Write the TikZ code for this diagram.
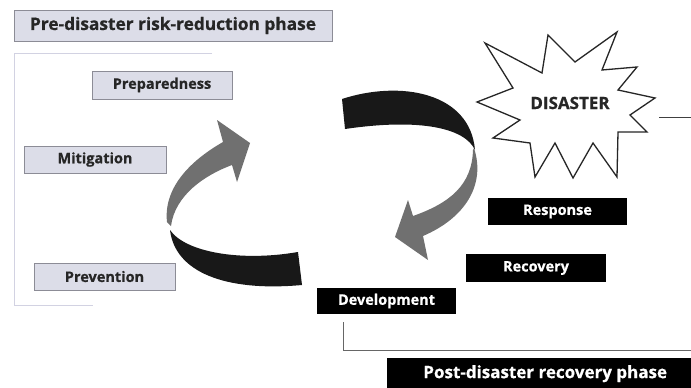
\documentclass[tikz,border=0pt]{standalone}
\usepackage{fontspec}
\setmainfont{Open Sans}[BoldFeatures={FakeBold=0.6}]
\definecolor{prefill}{RGB}{220,221,232}
\definecolor{preline}{RGB}{140,140,150}
\definecolor{faint}{RGB}{210,210,226}
\definecolor{ribbongray}{RGB}{112,112,112}
\definecolor{ribbonblack}{RGB}{24,24,24}
\tikzset{
  prebox/.style={draw=preline, fill=prefill, line width=1pt, inner sep=0pt,
    text=black!85, font=\bfseries\fontsize{14.5}{17}\selectfont},
  blkbox/.style={fill=black, inner sep=0pt, text=white,
    font=\bfseries\fontsize{14.5}{17}\selectfont},
  link/.style={draw=black!60, line width=1pt},
}
\begin{document}
\begin{tikzpicture}[x=1pt, y=-1pt]
\useasboundingbox (0,0) rectangle (691,388);
\fill[white] (0,0) rectangle (691,388);

% faint bracket of the pre-disaster phase
\draw[faint, line width=0.8pt] (212,53) -- (14,53) -- (14,305) -- (93,305);

% title and pre-disaster boxes
\node[prebox, minimum width=318pt, minimum height=31pt,
  font=\bfseries\fontsize{17.3}{20}\selectfont] (pre) at (173,25.5) {Pre-disaster risk-reduction phase};
\node[prebox, minimum width=140pt, minimum height=28pt] (prep) at (162,85) {Preparedness};
\node[prebox, minimum width=142pt, minimum height=27pt] (miti) at (95,159.5) {Mitigation};
\node[prebox, minimum width=141pt, minimum height=27pt] (prev) at (104.5,276.5) {Prevention};

% post-disaster boxes
\node[blkbox, minimum width=139pt, minimum height=27pt] (resp) at (557.5,211.5) {Response};
\node[blkbox, minimum width=140pt, minimum height=28pt] (reco) at (536,268) {Recovery};
\node[blkbox, minimum width=139pt, minimum height=26pt] (deve) at (386.5,301) {Development};
\node[blkbox, minimum width=306pt, minimum height=31pt, anchor=north west,
  font=\bfseries\fontsize{17}{20}\selectfont] (post) at (387,358) {\hspace*{10pt}Post-disaster recovery phase};

% bracket from Development to the post-disaster phase
\coordinate (bstart) at (343,322);
\coordinate (bend) at (691,350);
\draw[link] (bstart) -- (bstart |- bend) -- (bend);

% disaster starburst
\filldraw[fill=white, draw=black!85, line width=1.3pt, line join=miter]
  (485,43) -- (542,73) -- (548,35) -- (575,62) -- (617,32) -- (602,70) --
  (637,67) -- (618,90) -- (655,98) -- (630,115) -- (647,132) -- (618,132) --
  (617,177) -- (593,143) -- (573,178) -- (555,143) -- (535,177) -- (530,143) --
  (493,138) -- (520,120) -- (477,102) -- (513,88) -- cycle;
\node[font=\bfseries\fontsize{17}{20}\selectfont, text=black!85] (dis) at (570,103) {DISASTER};
\coordinate (sr) at (659,117);
\coordinate (se) at (691,117);
\draw[link, draw=black!75] (sr) -- (se);

% left ribbon arrow (black lower part, grey rising part)
\fill[ribbonblack] (170,230) .. controls (175,272) and (225,292) .. (302,285)
  -- (298,252) .. controls (240,262) and (185,252) .. (170,230) -- cycle;
\fill[ribbongray] (167,222) .. controls (163,185) and (195,158) .. (223,142)
  -- (217,120) -- (250,143) -- (237,182) -- (232,165)
  .. controls (205,175) and (175,195) .. (171,226) -- cycle;

% right ribbon arrow (black upper part, grey descending part)
\fill[ribbonblack] (342,99) .. controls (400,80) and (470,92) .. (475,150)
  .. controls (465,128) and (420,118) .. (345,129) -- cycle;
\fill[ribbongray] (474,148) .. controls (486,185) and (465,218) .. (423,236)
  -- (428,260) -- (395,237) -- (408,200) -- (413,216)
  .. controls (450,203) and (472,185) .. (473,150) -- cycle;
\end{tikzpicture}
\end{document}
